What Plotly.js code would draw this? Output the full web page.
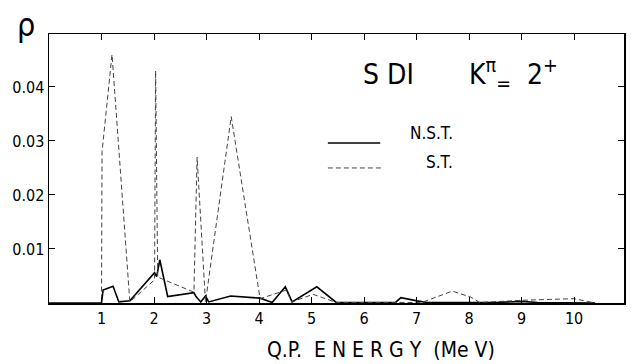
<!DOCTYPE html>
<html>
<head>
<meta charset="utf-8">
<script src="https://cdn.plot.ly/plotly-3.0.1.min.js"></script>
<style>html,body{margin:0;padding:0;background:#fff;}#chart{width:631px;height:364px;}</style>
</head>
<body>
<div id="chart"></div>
<script>
// Q.P. energy (MeV) and rho values
var xNST = [0, 1.0, 1.03, 1.22, 1.33, 1.54, 2.01, 2.05, 2.11, 2.26, 2.76, 2.8, 2.89, 2.98, 3.04, 3.46, 4.02, 4.25, 4.5, 4.63, 5.1, 5.47, 6.6, 6.7, 7.01, 7.2, 8.5, 9.0, 9.3, 10.4];
var yNST = [0, 0, 0.0024, 0.0031, 0.0002, 0.0004, 0.0056, 0.0049, 0.008, 0.0012, 0.0019, 0.0012, 0.0002, 0.0013, 0.0002, 0.0013, 0.0009, 0.0001, 0.003, 0.0002, 0.003, 0.0001, 0.0001, 0.001, 0.0004, 0.0001, 0.0001, 0.0003, 0.0001, 0];
var xST = [0, 1.0, 1.01, 1.2, 1.54, 2.01, 2.03, 2.07, 2.76, 2.82, 2.98, 3.47, 4.02, 4.52, 4.62, 5.03, 5.47, 6.0, 7.1, 7.68, 8.03, 8.2, 9.0, 10.0, 10.4];
var yST = [0, 0, 0.028, 0.046, 0.0002, 0.0043, 0.043, 0.0048, 0.002, 0.027, 0.0002, 0.0345, 0.0008, 0.0024, 0.0002, 0.0016, 0.0001, 0.0001, 0.0001, 0.0022, 0.0011, 0.0001, 0.0005, 0.0008, 0];
var xTicks = [1, 2, 3, 4, 5, 6, 7, 8, 9, 10];
var xTickText = ['1', '2', '3', '4', '5', '6', '7', '8', '9', '10'];
var yTicks = [0.01, 0.02, 0.03, 0.04];
var yTickText = ['0.01', '0.02', '0.03', '0.04'];
var seriesNames = ['N.S.T.', 'S.T.'];

var font = 'DejaVu Sans Condensed, DejaVu Sans, sans-serif';

var traces = [
  {x: xNST, y: yNST, mode: 'lines', name: seriesNames[0],
   line: {color: '#000', width: 1.6}},
  {x: xST, y: yST, mode: 'lines', name: seriesNames[1],
   line: {color: '#444', width: 1, dash: '5px,3px'}}
];

var layout = {
  width: 631, height: 364,
  margin: {l: 49, r: 7, t: 34, b: 61},
  paper_bgcolor: '#fff', plot_bgcolor: '#fff',
  showlegend: false,
  font: {family: font, color: '#000', size: 15},
  xaxis: {
    range: [0, 10.95], tickmode: 'array', tickvals: xTicks, ticktext: xTickText,
    ticks: 'inside', ticklen: 6, tickwidth: 1, tickcolor: '#000',
    mirror: 'ticks', showline: true, linecolor: '#000', linewidth: 1.5,
    showgrid: false, zeroline: false,
    tickfont: {family: font, size: 16, color: '#000'}
  },
  yaxis: {
    range: [0, 0.0498], tickmode: 'array', tickvals: yTicks, ticktext: yTickText,
    ticks: 'inside', ticklen: 6, tickwidth: 1, tickcolor: '#000',
    mirror: 'ticks', showline: true, linecolor: '#000', linewidth: 1.5,
    showgrid: false, zeroline: false,
    tickfont: {family: font, size: 16, color: '#000'}
  },
  shapes: [
    {type: 'line', xref: 'paper', yref: 'paper', x0: 0.485, x1: 0.576, y0: 0.595, y1: 0.595,
     line: {color: '#000', width: 1.5}},
    {type: 'line', xref: 'paper', yref: 'paper', x0: 0.485, x1: 0.579, y0: 0.502, y1: 0.502,
     line: {color: '#444', width: 1, dash: '5px,3px'}}
  ],
  annotations: [
    {xref: 'paper', yref: 'paper', x: -0.04, y: 1.035, xanchor: 'center', yanchor: 'middle',
     text: 'ρ', showarrow: false, font: {family: font, size: 32, color: '#000'}},
    {xref: 'paper', yref: 'paper', x: 0.59, y: 0.851, xanchor: 'center', yanchor: 'middle',
     text: 'S DI', showarrow: false, font: {family: font, size: 28, color: '#000'}},
    {xref: 'paper', yref: 'paper', x: 0.727, y: 0.851, xanchor: 'left', yanchor: 'middle',
     text: 'K<sup>π</sup><sub>=</sub>  2<sup>+</sup>', showarrow: false,
     font: {family: font, size: 28, color: '#000'}},
    {xref: 'paper', yref: 'paper', x: 0.706, y: 0.632, xanchor: 'right', yanchor: 'middle',
     text: seriesNames[0], showarrow: false, font: {family: font, size: 17, color: '#000'}},
    {xref: 'paper', yref: 'paper', x: 0.706, y: 0.524, xanchor: 'right', yanchor: 'middle',
     text: seriesNames[1], showarrow: false, font: {family: font, size: 17, color: '#000'}},
    {xref: 'paper', yref: 'paper', x: 0.577, y: -0.175, xanchor: 'center', yanchor: 'middle',
     text: 'Q.P.  E N E R G Y  (Me V)', showarrow: false,
     font: {family: font, size: 21, color: '#000'}}
  ]
};

Plotly.newPlot('chart', traces, layout, {staticPlot: true, displayModeBar: false});
</script>
</body>
</html>
